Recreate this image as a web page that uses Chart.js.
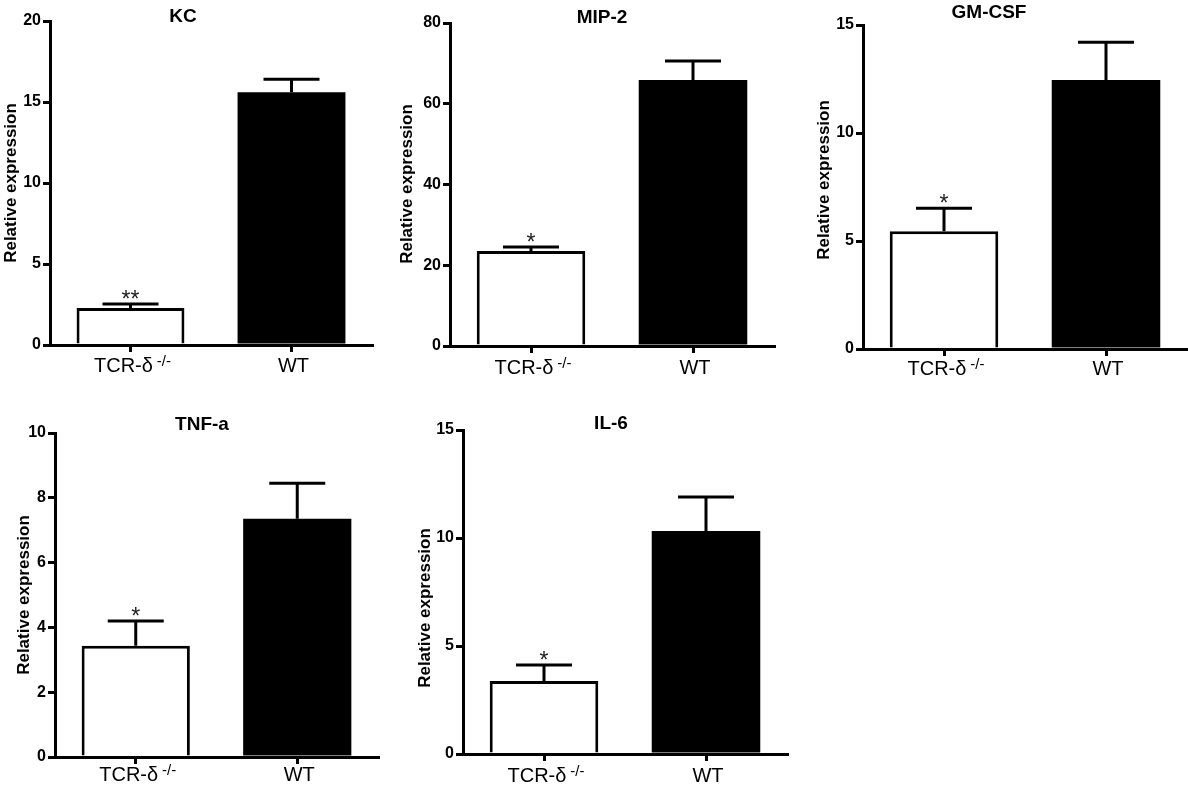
<!DOCTYPE html>
<html>
<head>
  <meta charset="utf-8">
  <title>Relative expression</title>
  <script src="https://cdn.jsdelivr.net/npm/chart.js"></script>
  <style>
    body {
      margin: 0;
      padding: 0;
      background: #fff;
      overflow: hidden;
    }
    #wrap {
      position: relative;
      width: 1188px;
      height: 789px;
    }
    canvas {
      position: absolute;
    }
  </style>
</head>
<body>
  <div id="wrap"></div>

  <script>
    // data
    const categories = ['TCR-δ', 'WT'];
    const categorySup = ['-/-', ''];
    const barFill = ['#ffffff', '#000000'];
    const yTitle = 'Relative expression';

    const titles = ['KC', 'MIP-2', 'GM-CSF', 'TNF-a', 'IL-6'];

    const kcMean = [2.28, 15.6];
    const kcSem = [0.25, 0.8];
    const mipMean = [23.5, 65.9];
    const mipSem = [1.0, 4.7];
    const gmMean = [5.45, 12.45];
    const gmSem = [1.07, 1.75];
    const tnfMean = [3.43, 7.35];
    const tnfSem = [0.77, 1.1];
    const il6Mean = [3.38, 10.32];
    const il6Sem = [0.74, 1.58];

    const stars = [['**', ''], ['*', ''], ['*', ''], ['*', ''], ['*', '']];
    const yMax = [20, 80, 15, 10, 15];
    const yStep = [5, 20, 5, 2, 5];

    const means = [kcMean, mipMean, gmMean, tnfMean, il6Mean];
    const sems = [kcSem, mipSem, gmSem, tnfSem, il6Sem];

    // where each panel sits on the page (px)
    const layout = [
      { axisX: 50,  xEnd: 372,  yTop: 21,  yZero: 345, ytx: 10,  yty: 183, tx: 183, ty: 17,  lab: 27 },
      { axisX: 450, xEnd: 774,  yTop: 23,  yZero: 346, ytx: 406, yty: 184, tx: 602, ty: 18,  lab: 28 },
      { axisX: 863, xEnd: 1187, yTop: 25,  yZero: 349, ytx: 823, yty: 180, tx: 989, ty: 13,  lab: 26 },
      { axisX: 55,  xEnd: 378,  yTop: 433, yZero: 757, ytx: 23,  yty: 595, tx: 202, ty: 425, lab: 24 },
      { axisX: 463, xEnd: 787,  yTop: 430, yZero: 754, ytx: 424, yty: 608, tx: 611, ty: 424, lab: 28 }
    ];

    const FONT = '"Liberation Sans", Arial, Helvetica, sans-serif';
    const wrap = document.getElementById('wrap');

    function panelPlugin(i, lc, tc) {
      const p = layout[i];
      return {
        id: 'panel' + i,
        afterDatasetsDraw(chart) {
          // error bars (SEM, upward only) + significance stars
          const ctx = chart.ctx;
          const y = chart.scales.y;
          const meta = chart.getDatasetMeta(0);
          ctx.save();
          ctx.strokeStyle = '#000';
          ctx.fillStyle = '#222';
          ctx.lineWidth = 3;
          meta.data.forEach((bar, j) => {
            const top = y.getPixelForValue(means[i][j]);
            const cap = y.getPixelForValue(means[i][j] + sems[i][j]);
            ctx.beginPath();
            ctx.moveTo(bar.x, top);
            ctx.lineTo(bar.x, cap);
            ctx.moveTo(bar.x - 28, cap);
            ctx.lineTo(bar.x + 28, cap);
            ctx.stroke();
            if (stars[i][j]) {
              ctx.font = '23px ' + FONT;
              ctx.textAlign = 'center';
              ctx.textBaseline = 'alphabetic';
              ctx.fillText(stars[i][j], bar.x, cap + 3);
            }
          });
          ctx.restore();
        },
        afterDraw(chart) {
          const ctx = chart.ctx;
          const xs = chart.scales.x;
          ctx.save();
          ctx.fillStyle = '#000';

          // category labels with superscript
          categories.forEach((c, j) => {
            const x = xs.getPixelForTick(j);
            const base = chart.chartArea.bottom + p.lab;
            ctx.font = '20px ' + FONT;
            const w1 = ctx.measureText(c).width;
            let w2 = 0;
            if (categorySup[j]) {
              ctx.font = '15px ' + FONT;
              w2 = ctx.measureText(categorySup[j]).width + 4;
            }
            const start = x - (w1 + w2) / 2 + 2;
            ctx.textAlign = 'left';
            ctx.textBaseline = 'alphabetic';
            ctx.font = '20px ' + FONT;
            ctx.fillText(c, start, base);
            if (categorySup[j]) {
              ctx.font = '15px ' + FONT;
              ctx.fillText(categorySup[j], start + w1 + 4, base - 6);
            }
          });

          // panel title
          ctx.font = 'bold 19px ' + FONT;
          ctx.textAlign = 'center';
          ctx.textBaseline = 'middle';
          ctx.fillText(titles[i], p.tx - lc, p.ty - tc);

          // y axis title
          ctx.translate(p.ytx - lc + 1, p.yty - tc);
          ctx.rotate(-Math.PI / 2);
          ctx.font = 'bold 17px ' + FONT;
          ctx.fillText(yTitle, 0, 0);
          ctx.restore();
        }
      };
    }

    layout.forEach((p, i) => {
      const lc = p.ytx - 14;
      const tc = p.yTop - 34;
      const w = p.xEnd - lc + 3;
      const h = p.yZero - tc + 45;
      const yWidth = p.axisX - lc;

      const cv = document.createElement('canvas');
      cv.width = w;
      cv.height = h;
      cv.style.left = lc + 'px';
      cv.style.top = tc + 'px';
      wrap.appendChild(cv);

      new Chart(cv.getContext('2d'), {
        type: 'bar',
        data: {
          labels: categories,
          datasets: [{
            data: means[i],
            backgroundColor: barFill,
            borderColor: '#000',
            borderWidth: [3, 0],
            barPercentage: 0.67,
            categoryPercentage: 1
          }]
        },
        options: {
          responsive: false,
          animation: false,
          devicePixelRatio: 1,
          events: [],
          layout: { padding: { left: 0, top: 34, right: 3, bottom: 0 } },
          plugins: {
            legend: { display: false },
            tooltip: { enabled: false },
            title: { display: false }
          },
          scales: {
            x: {
              z: 1,
              offset: true,
              grid: { offset: false, drawOnChartArea: false, drawTicks: true, tickLength: 7, lineWidth: 3, color: '#000' },
              border: { display: true, width: 3, color: '#000' },
              ticks: { display: false },
              afterFit(s) { s.height = 45; }
            },
            y: {
              z: 1,
              min: 0,
              max: yMax[i],
              grid: { drawOnChartArea: false, drawTicks: true, tickLength: 7, lineWidth: 3, color: '#000' },
              border: { display: true, width: 3, color: '#000' },
              ticks: {
                stepSize: yStep[i],
                padding: 2,
                color: '#000',
                font: { family: FONT, size: 16, weight: 'bold' }
              },
              afterFit(s) { s.width = yWidth; }
            }
          }
        },
        plugins: [panelPlugin(i, lc, tc)]
      });
    });
  </script>
</body>
</html>
